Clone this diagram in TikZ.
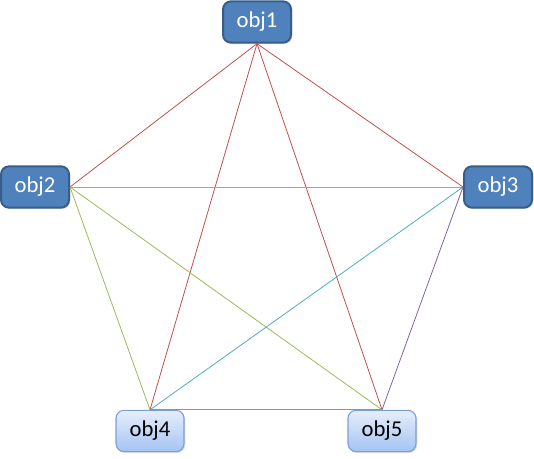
\documentclass[tikz,border=0pt]{standalone}
\usepackage{fontspec}
\setmainfont{Carlito}
\usepackage{tikz}
\usetikzlibrary{shadows}
\definecolor{objdark}{HTML}{4F81BD}
\definecolor{objedge}{HTML}{385D8A}
\definecolor{objtop}{HTML}{E6EEFB}
\definecolor{objlite}{HTML}{A4C3F2}
\definecolor{objline}{HTML}{7B9FD1}
\definecolor{edgered}{HTML}{C0504D}
\definecolor{edgegreen}{HTML}{9BBB59}
\definecolor{edgeblue}{HTML}{4BACC6}
\definecolor{edgepurple}{HTML}{8064A2}
\tikzset{
  darkobj/.style={draw=objedge, line width=1.5pt, fill=objdark, text=white,
    rounded corners=6pt, minimum width=51pt, minimum height=31pt,
    font=\fontsize{17}{19}\selectfont, drop shadow={opacity=0.25,shadow xshift=1pt,shadow yshift=-1pt}},
  liteobj/.style={draw=objline, line width=0.8pt, top color=objtop, bottom color=objlite,
    text=black, rounded corners=6pt, minimum width=51pt, minimum height=31pt,
    font=\fontsize{17}{19}\selectfont, drop shadow={opacity=0.25,shadow xshift=1pt,shadow yshift=-1pt}},
  link/.style={line width=0.6pt}
}
\begin{document}
\begin{tikzpicture}[x=0.75pt,y=-0.75pt]
\useasboundingbox (0,0) rectangle (534,458);
\node[darkobj] (obj1) at (257,22) {obj1};
\node[darkobj] (obj2) at (35,187) {obj2};
\node[darkobj] (obj3) at (498,187) {obj3};
\node[liteobj] (obj4) at (150,431) {obj4};
\node[liteobj] (obj5) at (382,431) {obj5};
\draw[link,edgered] (obj1.south) -- (obj2.east);
\draw[link,edgered] (obj1.south) -- (obj3.west);
\draw[link,edgered] (obj1.south) -- (obj4.north);
\draw[link,edgered] (obj1.south) -- (obj5.north);
\draw[link,edgegreen] (obj2.east) -- (obj3.west);
\draw[link,edgegreen] (obj2.east) -- (obj4.north);
\draw[link,edgegreen] (obj2.east) -- (obj5.north);
\draw[link,edgeblue] (obj3.west) -- (obj4.north);
\draw[link,edgepurple] (obj3.west) -- (obj5.north);
\draw[link,edgeblue] (obj4.north) -- (obj5.north);
\end{tikzpicture}
\end{document}
